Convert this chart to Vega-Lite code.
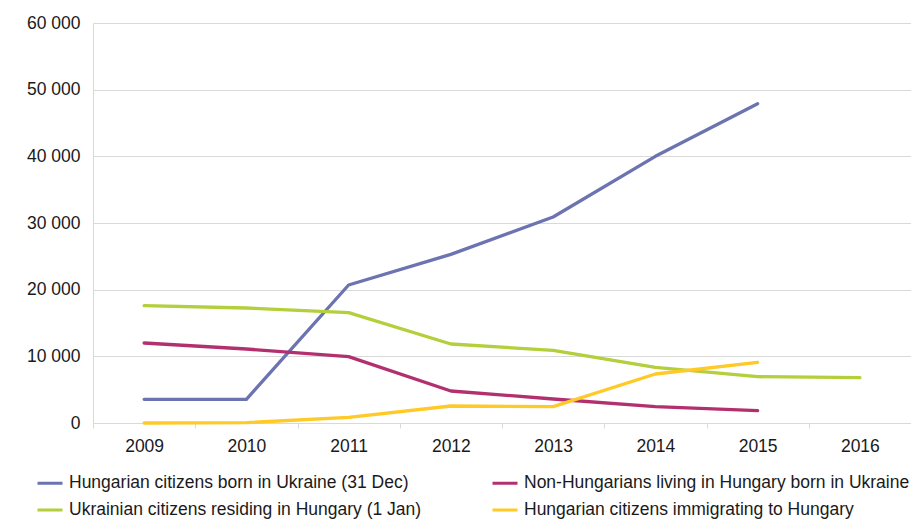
{
  "$schema": "https://vega.github.io/schema/vega-lite/v6.json",
  "width": 818,
  "height": 400,
  "autosize": {"type": "none"},
  "padding": {"left": 93, "top": 23, "right": 0, "bottom": 102},
  "background": "white",
  "config": {
    "view": {"stroke": null},
    "font": "Liberation Sans",
    "axis": {"labelFont": "Liberation Sans", "labelColor": "#1a1a1a", "labelFontSize": 17.5}
  },
  "data": {
    "values": [
      {"year": "2009", "series": "Hungarian citizens born in Ukraine (31 Dec)", "value": 3550},
      {"year": "2010", "series": "Hungarian citizens born in Ukraine (31 Dec)", "value": 3550},
      {"year": "2011", "series": "Hungarian citizens born in Ukraine (31 Dec)", "value": 20700},
      {"year": "2012", "series": "Hungarian citizens born in Ukraine (31 Dec)", "value": 25300},
      {"year": "2013", "series": "Hungarian citizens born in Ukraine (31 Dec)", "value": 30900},
      {"year": "2014", "series": "Hungarian citizens born in Ukraine (31 Dec)", "value": 40000},
      {"year": "2015", "series": "Hungarian citizens born in Ukraine (31 Dec)", "value": 47900},
      {"year": "2009", "series": "Non-Hungarians living in Hungary born in Ukraine", "value": 12000},
      {"year": "2010", "series": "Non-Hungarians living in Hungary born in Ukraine", "value": 11100},
      {"year": "2011", "series": "Non-Hungarians living in Hungary born in Ukraine", "value": 9950},
      {"year": "2012", "series": "Non-Hungarians living in Hungary born in Ukraine", "value": 4800},
      {"year": "2013", "series": "Non-Hungarians living in Hungary born in Ukraine", "value": 3600},
      {"year": "2014", "series": "Non-Hungarians living in Hungary born in Ukraine", "value": 2450},
      {"year": "2015", "series": "Non-Hungarians living in Hungary born in Ukraine", "value": 1850},
      {"year": "2009", "series": "Ukrainian citizens residing in Hungary (1 Jan)", "value": 17600},
      {"year": "2010", "series": "Ukrainian citizens residing in Hungary (1 Jan)", "value": 17250},
      {"year": "2011", "series": "Ukrainian citizens residing in Hungary (1 Jan)", "value": 16550},
      {"year": "2012", "series": "Ukrainian citizens residing in Hungary (1 Jan)", "value": 11850},
      {"year": "2013", "series": "Ukrainian citizens residing in Hungary (1 Jan)", "value": 10900},
      {"year": "2014", "series": "Ukrainian citizens residing in Hungary (1 Jan)", "value": 8350},
      {"year": "2015", "series": "Ukrainian citizens residing in Hungary (1 Jan)", "value": 6950},
      {"year": "2016", "series": "Ukrainian citizens residing in Hungary (1 Jan)", "value": 6800},
      {"year": "2009", "series": "Hungarian citizens immigrating to Hungary", "value": 0},
      {"year": "2010", "series": "Hungarian citizens immigrating to Hungary", "value": 50},
      {"year": "2011", "series": "Hungarian citizens immigrating to Hungary", "value": 850},
      {"year": "2012", "series": "Hungarian citizens immigrating to Hungary", "value": 2550},
      {"year": "2013", "series": "Hungarian citizens immigrating to Hungary", "value": 2450},
      {"year": "2014", "series": "Hungarian citizens immigrating to Hungary", "value": 7350},
      {"year": "2015", "series": "Hungarian citizens immigrating to Hungary", "value": 9100}
    ]
  },
  "mark": {"type": "line", "strokeWidth": 3.3, "strokeCap": "round", "strokeJoin": "round"},
  "encoding": {
    "x": {
      "field": "year",
      "type": "ordinal",
      "scale": {"type": "band", "paddingInner": 0, "paddingOuter": 0},
      "axis": {
        "title": null,
        "labelAngle": 0,
        "tickBand": "extent",
        "domainColor": "#d9d9d9",
        "tickColor": "#d9d9d9",
        "tickSize": 5,
        "labelPadding": 9,
        "grid": false
      }
    },
    "y": {
      "field": "value",
      "type": "quantitative",
      "scale": {"domain": [0, 60000], "nice": false},
      "axis": {
        "title": null,
        "values": [0, 10000, 20000, 30000, 40000, 50000, 60000],
        "labelExpr": "replace(format(datum.value, ','), regexp(',', 'g'), ' ')",
        "ticks": false,
        "labelPadding": 13,
        "domainColor": "#d9d9d9",
        "gridColor": "#d9d9d9",
        "grid": true
      }
    },
    "color": {
      "field": "series",
      "type": "nominal",
      "scale": {
        "domain": [
          "Hungarian citizens born in Ukraine (31 Dec)",
          "Non-Hungarians living in Hungary born in Ukraine",
          "Ukrainian citizens residing in Hungary (1 Jan)",
          "Hungarian citizens immigrating to Hungary"
        ],
        "range": ["#6b73b1", "#b3306f", "#b3cf3b", "#ffc926"]
      },
      "legend": {
        "title": null,
        "orient": "none",
        "legendX": -57,
        "legendY": 446,
        "columns": 2,
        "direction": "horizontal",
        "columnPadding": 64,
        "rowPadding": 4,
        "padding": 0,
        "symbolType": "stroke",
        "symbolSize": 625,
        "symbolStrokeWidth": 3,
        "labelFont": "Liberation Sans",
        "labelFontSize": 17.5,
        "labelColor": "#1a1a1a",
        "labelOffset": 5,
        "labelLimit": 500
      }
    }
  }
}
